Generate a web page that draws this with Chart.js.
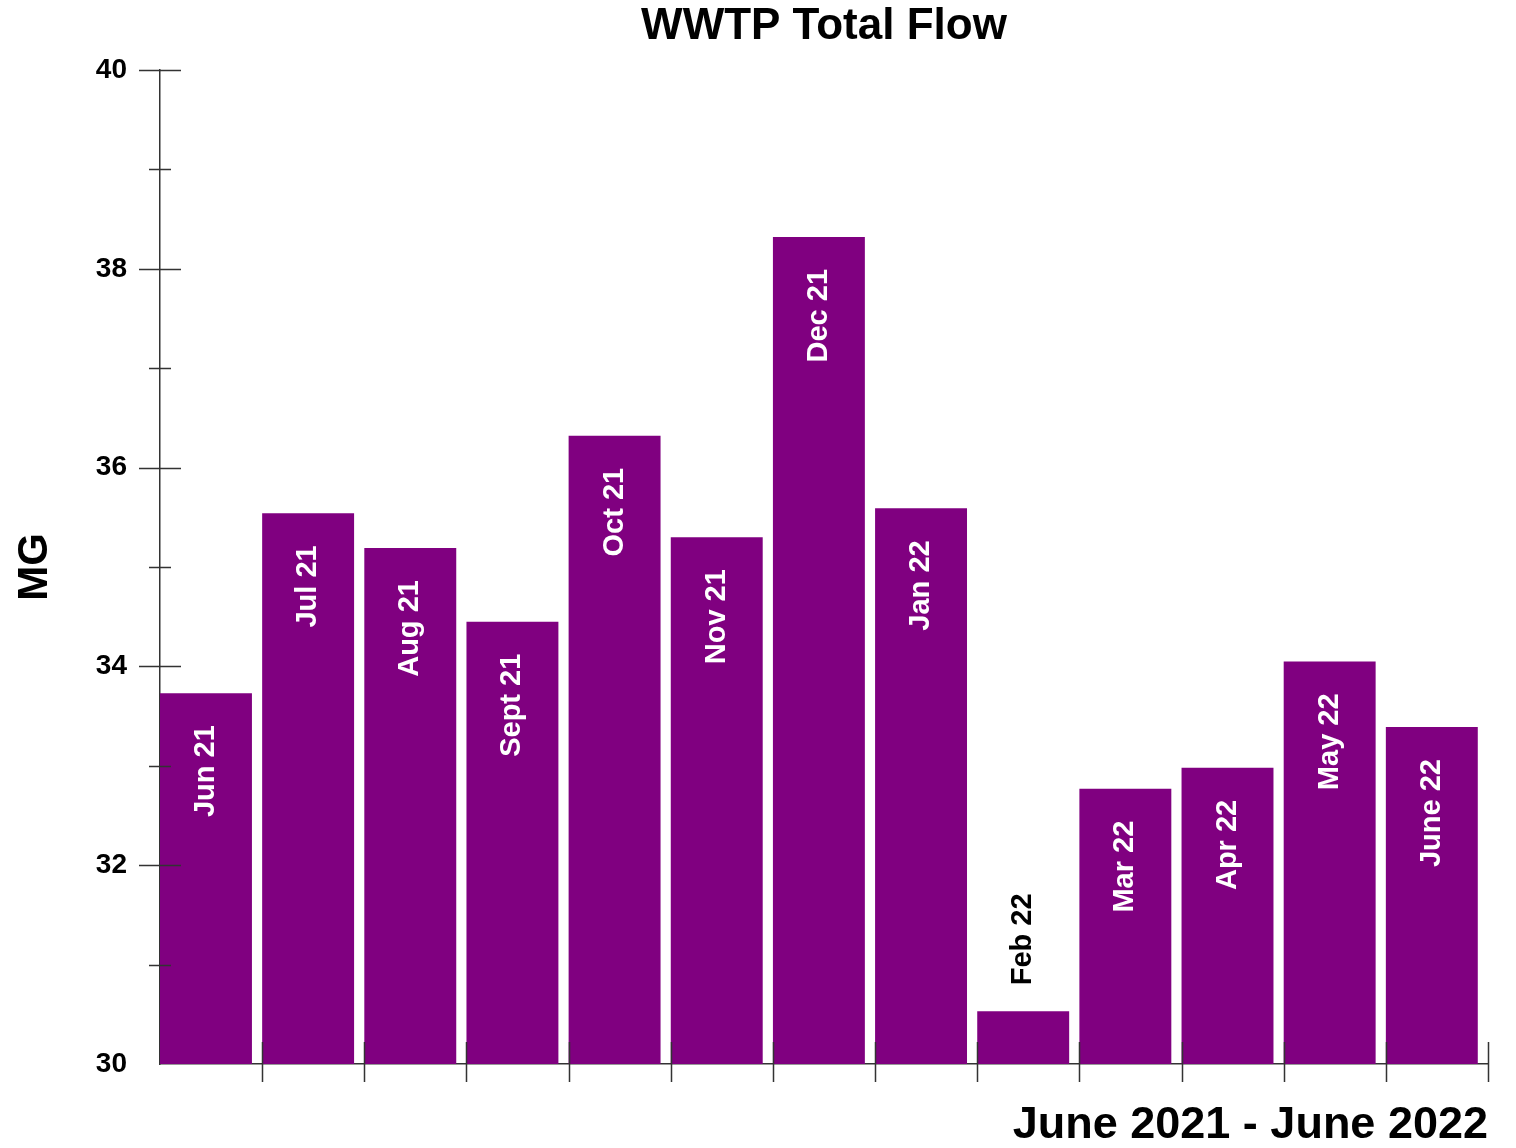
<!DOCTYPE html>
<html lang="en">
<head>
<meta charset="UTF-8">
<title>WWTP Total Flow</title>
<script src="https://cdn.jsdelivr.net/npm/chart.js"></script>
<style>
    html, body { margin: 0; padding: 0; background: #fff; }
    .chart-box { width: 1516px; height: 1148px; position: relative; }
</style>
</head>
<body>
<div class="chart-box">
    <canvas id="flowChart"></canvas>
</div>
<script>
    // monthly totals, million gallons
    const months = ['Jun 21', 'Jul 21', 'Aug 21', 'Sept 21', 'Oct 21', 'Nov 21', 'Dec 21',
                    'Jan 22', 'Feb 22', 'Mar 22', 'Apr 22', 'May 22', 'June 22'];
    const flowMG = [33.73, 35.54, 35.19, 34.45, 36.32, 35.30, 38.32,
                    35.59, 30.53, 32.77, 32.98, 34.05, 33.39];
    const yMin = 30, yMax = 40, yStep = 2, yMinorStep = 1;

    const axisColor = '#333';
    const fontFamily = '"Liberation Sans", Arial, sans-serif';

    // bars sit at the left of each month slot
    const points = flowMG.map((v, i) => ({ x: i + 0.45, y: v }));

    // tick marks that cross the axis lines
    const crossTicks = {
        id: 'crossTicks',
        afterDraw(chart) {
            const { ctx, scales: { x, y } } = chart;
            ctx.save();
            ctx.strokeStyle = axisColor;
            ctx.lineWidth = 1.5;
            ctx.beginPath();
            for (let v = yMin + yMinorStep; v <= yMax; v += yMinorStep) {
                const py = Math.round(y.getPixelForValue(v)) + 0.5;
                const half = (v - yMin) % yStep === 0 ? 21 : 11;
                ctx.moveTo(x.left - half, py);
                ctx.lineTo(x.left + half, py);
            }
            for (let i = 1; i <= months.length; i++) {
                const px = Math.round(x.getPixelForValue(i)) + 0.5;
                ctx.moveTo(px, y.bottom - 22);
                ctx.lineTo(px, y.bottom + 18);
            }
            ctx.stroke();
            ctx.restore();
        }
    };

    // month names written sideways inside each bar (above it when the bar is short)
    const barNames = {
        id: 'barNames',
        afterDatasetsDraw(chart) {
            const { ctx } = chart;
            const bottom = chart.scales.y.bottom;
            const meta = chart.getDatasetMeta(0);
            ctx.save();
            ctx.font = 'bold 29px ' + fontFamily;
            ctx.textBaseline = 'middle';
            meta.data.forEach((bar, i) => {
                const label = months[i];
                const w = ctx.measureText(label).width;
                const h = bottom - bar.y;
                ctx.save();
                if (w + 40 < h) {
                    ctx.translate(bar.x, bar.y + 32);
                    ctx.rotate(-Math.PI / 2);
                    ctx.textAlign = 'right';
                    ctx.fillStyle = '#fff';
                } else {
                    ctx.translate(bar.x, bar.y - 26);
                    ctx.rotate(-Math.PI / 2);
                    ctx.textAlign = 'left';
                    ctx.fillStyle = '#000';
                }
                ctx.fillText(label, 0, 0);
                ctx.restore();
            });
            ctx.restore();
        }
    };

    new Chart(document.getElementById('flowChart'), {
        type: 'bar',
        data: {
            datasets: [{
                label: 'Total Flow (MG)',
                data: points,
                backgroundColor: '#800080',
                borderWidth: 0,
                categoryPercentage: 1.0,
                barPercentage: 0.9
            }]
        },
        options: {
            responsive: true,
            maintainAspectRatio: false,
            animation: false,
            layout: { padding: { left: 0, right: 28, top: 0, bottom: 0 } },
            plugins: {
                legend: { display: false },
                tooltip: { enabled: false },
                title: {
                    display: true,
                    text: 'WWTP Total Flow',
                    color: '#000',
                    fullSize: false,
                    font: { family: fontFamily, size: 44, weight: 'bold', lineHeight: 1 },
                    padding: { top: 5, bottom: 21 }
                }
            },
            scales: {
                x: {
                    type: 'linear',
                    min: 0,
                    max: months.length,
                    offset: false,
                    grid: { display: false, offset: false, drawTicks: false },
                    border: { display: true, color: axisColor, width: 1.5 },
                    ticks: { display: false, stepSize: 1 },
                    title: {
                        display: true,
                        text: 'June 2021 - June 2022',
                        align: 'end',
                        color: '#000',
                        font: { family: fontFamily, size: 45, weight: 'bold', lineHeight: 1 },
                        padding: { top: 0, bottom: 0 }
                    },
                    afterFit(scale) { scale.height = 84; }
                },
                y: {
                    min: yMin,
                    max: yMax,
                    grid: { display: false, drawTicks: false },
                    border: { display: true, color: axisColor, width: 1.5 },
                    ticks: {
                        stepSize: yStep,
                        color: '#000',
                        padding: 33,
                        font: { family: fontFamily, size: 28, weight: 'bold' }
                    },
                    title: {
                        display: true,
                        text: 'MG',
                        color: '#000',
                        font: { family: fontFamily, size: 42, weight: 'bold', lineHeight: 1 },
                        padding: { top: 14, bottom: 0 }
                    },
                    afterFit(scale) { scale.width = 160; }
                }
            }
        },
        plugins: [crossTicks, barNames]
    });
</script>
</body>
</html>
